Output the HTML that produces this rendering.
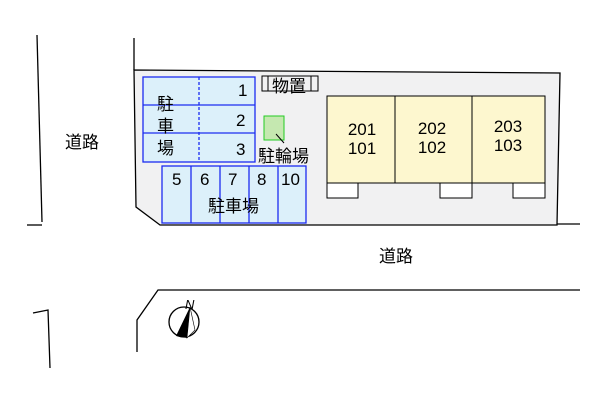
<!DOCTYPE html>
<html><head><meta charset="utf-8"><style>
body{margin:0;background:#fff}
svg text{font-family:"Liberation Sans","Noto Sans CJK JP",sans-serif;fill:#000}
</style></head><body>
<svg width="600" height="400" viewBox="0 0 600 400" xmlns="http://www.w3.org/2000/svg">
<g stroke="#000" stroke-width="1.3" fill="none">
<polyline points="37,35 42,222"/>
<polyline points="27,225 42,225"/>
<line x1="134" y1="38" x2="134" y2="70"/>
<polygon points="134,70 560,73 557,225 160,225 136,207" fill="#f1f1f2"/>
<line x1="557" y1="224" x2="580" y2="224"/>
<polyline points="137,352 137,320 158,290 580,290"/>
<polyline points="33,313 48,310 50,368"/>
</g>
<g stroke="#000" stroke-width="1">
<rect x="327" y="96" width="218" height="87" fill="#fdf7cf"/>
<line x1="395" y1="96" x2="395" y2="183"/>
<line x1="472" y1="96" x2="472" y2="183"/>
<rect x="327" y="183" width="31" height="15" fill="#fff"/>
<rect x="440" y="183" width="32" height="15" fill="#fff"/>
<rect x="513" y="183" width="32" height="15" fill="#fff"/>
</g>
<g font-size="17" text-anchor="middle">
<text x="362" y="135">201</text><text x="362" y="154">101</text>
<text x="432" y="134">202</text><text x="432" y="153">102</text>
<text x="508" y="132">203</text><text x="508" y="151">103</text>
</g>
<g stroke="#1c2cf0" stroke-width="1.3" fill="#dcf0fa">
<rect x="143" y="77" width="112" height="85"/>
<line x1="143" y1="105" x2="255" y2="105"/>
<line x1="143" y1="133" x2="255" y2="133"/>
<line x1="199" y1="77" x2="199" y2="162" stroke-dasharray="3,2"/>
<rect x="162" y="166" width="144" height="57"/>
<line x1="191" y1="166" x2="191" y2="223"/>
<line x1="220" y1="166" x2="220" y2="223"/>
<line x1="249" y1="166" x2="249" y2="223"/>
<line x1="278" y1="166" x2="278" y2="223"/>
</g>
<g font-size="17">
<text x="238" y="96">1</text><text x="236" y="126">2</text><text x="236" y="155">3</text>
<text x="172" y="185">5</text><text x="200" y="185">6</text><text x="228" y="185">7</text><text x="257" y="185">8</text><text x="281" y="185">10</text>
<text x="157" y="110">駐</text><text x="157" y="132">車</text><text x="157" y="154">場</text>
<text x="208" y="212">駐車場</text>
<text x="258" y="162">駐輪場</text>
<text x="272" y="92">物置</text>
<text x="65" y="148">道路</text>
<text x="379" y="262">道路</text>
</g>
<g stroke="#000" stroke-width="1" fill="none">
<rect x="262" y="76" width="56" height="15"/>
<line x1="268" y1="76" x2="268" y2="91"/><line x1="311" y1="76" x2="311" y2="91"/>
</g>
<rect x="264" y="116" width="20" height="24" fill="#c5e8b0" stroke="#22cc22" stroke-width="1"/>
<line x1="276" y1="134" x2="284" y2="143" stroke="#000"/>
<circle cx="184" cy="322" r="15" fill="#fff" stroke="#000" stroke-width="1.3"/>
<polygon points="190,307 176,336 187,338" fill="#000"/>
<polygon points="190,307 187,338 195,330" fill="#fff" stroke="#000" stroke-width=".6"/>
<text x="185" y="309" font-size="13" font-style="italic">N</text>
</svg>
</body></html>
